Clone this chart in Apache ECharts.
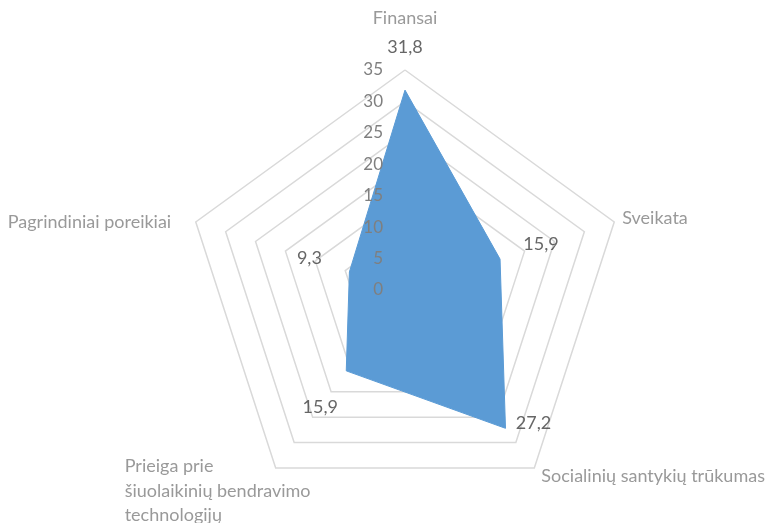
<!DOCTYPE html>
<html>
<head>
<meta charset="utf-8">
<script src="https://cdn.jsdelivr.net/npm/echarts@6/dist/echarts.min.js"></script>
<style>
    html, body { margin: 0; padding: 0; background: #fff; }
    #chart { width: 774px; height: 523px; }
</style>
</head>
<body>
<div id="chart"></div>
<script>
// 数据 (order as in the picture, clockwise from the top)
const categories = ['Finansai', 'Sveikata', 'Socialinių santykių trūkumas', 'Prieiga prie\nšiuolaikinių bendravimo\ntechnologijų', 'Pagrindiniai poreikiai'];
const values = [31.8, 15.9, 27.2, 15.9, 9.3];
const axisMax = 35;
const axisStep = 5;
// value label offsets [dx, dy] and category name offsets from the outer corner
const labelOffsets = [[0, -43], [41, -15], [28, -5], [-26, 36], [-40, -14]];
const nameOffsets = [[0, -52], [8, -4], [7, 8], [-151, 23], [-188, 0]];

function fmt(v) {
    return v.toFixed(1).replace('.', ',');
}

// echarts radar goes counter-clockwise, so reverse all but the first
const order = [0, 4, 3, 2, 1];
const center = [405, 290];
const radius = 220;
const font = 'Lato';

var chart = echarts.init(document.getElementById('chart'));

var option = {
    animation: false,
    radar: {
        center: center,
        radius: radius,
        startAngle: 90,
        splitNumber: axisMax / axisStep,
        shape: 'polygon',
        indicator: order.map(i => ({ name: categories[i], min: 0, max: axisMax })),
        axisName: { show: false },
        axisLine: { show: false },
        axisTick: { show: false },
        axisLabel: { show: false },
        splitLine: { lineStyle: { color: '#d9d9d9', width: 1.5 } },
        splitArea: { show: false }
    },
    polar: {
        center: center,
        radius: radius
    },
    angleAxis: {
        type: 'value',
        min: 0,
        max: 360,
        startAngle: 90,
        clockwise: true,
        show: false
    },
    radiusAxis: {
        type: 'value',
        min: 0,
        max: axisMax,
        interval: axisStep,
        z: 10,
        axisLine: { show: false },
        axisTick: { show: false },
        splitLine: { show: false },
        axisLabel: { color: '#7f7f7f', fontSize: 17, fontFamily: font, margin: 22 }
    },
    series: [
        {
            type: 'radar',
            symbol: 'none',
            lineStyle: { color: '#5b9bd5', width: 1 },
            areaStyle: { color: '#5b9bd5', opacity: 1 },
            data: [{ value: order.map(i => values[i]) }],
            z: 1
        },
        {
            // data labels
            type: 'scatter',
            coordinateSystem: 'polar',
            symbolSize: 1,
            itemStyle: { color: 'rgba(0,0,0,0)' },
            silent: true,
            data: values.map((v, i) => ({
                value: [v, i * 360 / values.length],
                label: {
                    show: true,
                    position: 'inside',
                    offset: labelOffsets[i],
                    formatter: fmt(v),
                    color: '#404040',
                    fontSize: 18,
                    fontFamily: font
                }
            })),
            z: 3
        },
        {
            // category names at the outer corners
            type: 'scatter',
            coordinateSystem: 'polar',
            symbolSize: 1,
            itemStyle: { color: 'rgba(0,0,0,0)' },
            silent: true,
            data: categories.map((c, i) => ({
                value: [axisMax, i * 360 / categories.length],
                label: {
                    show: true,
                    position: 'inside',
                    offset: nameOffsets[i],
                    align: i === 0 ? 'center' : 'left',
                    verticalAlign: 'middle',
                    formatter: c,
                    color: '#7f7f7f',
                    fontSize: 18,
                    lineHeight: 24.5,
                    fontFamily: font
                }
            })),
            z: 3
        }
    ]
};

chart.setOption(option);
</script>
</body>
</html>
